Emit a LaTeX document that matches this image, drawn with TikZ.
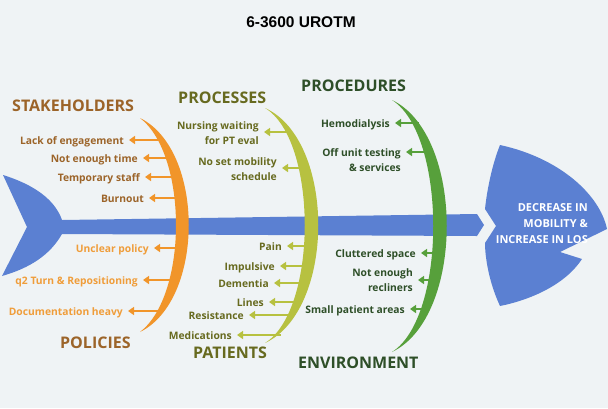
\documentclass[tikz,border=0pt]{standalone}
\usepackage{fontspec}
\setmainfont{Open Sans}
\newfontfamily\titlefont{Liberation Sans}
\usetikzlibrary{arrows.meta}
\definecolor{bgcol}{HTML}{EFF3F5}
\definecolor{fishblue}{HTML}{5B80D2}
\definecolor{orng}{HTML}{F1952A}
\definecolor{brwn}{HTML}{9C6429}
\definecolor{lorng}{HTML}{EF9D3A}
\definecolor{olive}{HTML}{B7C140}
\definecolor{dolive}{HTML}{676A1F}
\definecolor{grn}{HTML}{57A03B}
\definecolor{dgrn}{HTML}{2E4F28}
\tikzset{
  item/.style={anchor=base east, inner xsep=5pt, inner ysep=0pt, align=right,
    font=\fontsize{10.3}{15}\selectfont\bfseries},
  heading/.style={anchor=west, inner sep=0pt, font=\fontsize{16}{19}\selectfont\bfseries},
  arr/.style={line width=2.5pt, -{Triangle[length=6pt,width=8pt]}}
}
\begin{document}
\begin{tikzpicture}[x=1pt,y=-1pt]
    \fill[bgcol] (0,0) rectangle (608,408);
    \useasboundingbox (0,0) rectangle (608,408);
    \node (title) [font=\titlefont\fontsize{15.5}{18}\selectfont\bfseries] at (301,22) {6-3600 UROTM};
    % spine and tail
    \fill[fishblue] (3,175) .. controls (35,185) and (55,200) .. (62,220) -- (477,214) -- (484,225)
        -- (477,236) -- (62,234) .. controls (50,255) and (30,268) .. (2,276) -- (27,227) -- cycle;
    % head
    \fill[fishblue] (500,145) .. controls (560,158) and (600,195) .. (607,229) -- (560,252) -- (582,259)
        .. controls (565,285) and (530,300) .. (500,306) .. controls (488,280) and (485,255) .. (485,243)
        -- (496,226) -- (485,209) .. controls (487,190) and (492,165) .. (500,145) -- cycle;
    \node (effect) [anchor=east, align=right, text=white, inner sep=0pt,
        font=\fontsize{11}{16}\selectfont\bfseries] at (588,224) {DECREASE IN\\MOBILITY \&\\INCREASE IN LOS};
    % headings
    \node (stake) [heading, text=brwn] at (12,106) {STAKEHOLDERS};
    \node (pol) [heading, text=brwn] at (60,343) {POLICIES};
    \node (proc) [heading, text=dolive] at (178,98) {PROCESSES};
    \node (pat) [heading, text=dolive] at (193,353) {PATIENTS};
    \node (pcd) [heading, text=dgrn] at (301,86) {PROCEDURES};
    \node (env) [heading, text=dgrn] at (298,363) {ENVIRONMENT};
    % causes
    \foreach \n/\t/\x/\y/\a/\o in {s1/Lack of engagement/124/140/140/163, s2/Not enough time/138/158/158/172,
        s3/Temporary staff/140/177/177/178, s4/Burnout/144/198/198/181} {
    \node (\n) [item, text=brwn] at (\x+5,\y+4) {\t};
    \coordinate (\n o) at (\o,\a);
    \draw[arr, orng] (\n o) -- (\n o -| \n.east);
    }
    \foreach \n/\t/\x/\y/\a/\o in {p1/Unclear policy/149/248/248/181, p2/q2 Turn \& Repositioning/138/280/280/175,
        p3/Documentation heavy/123/311/311/161} {
    \node (\n) [item, text=lorng] at (\x+5,\y+4) {\t};
    \coordinate (\n o) at (\o,\a);
    \draw[arr, orng] (\n o) -- (\n o -| \n.east);
    }
    \foreach \n/\t/\x/\y/\a/\o in {r1/{Nursing waiting\\for PT eval}/259/140/132/291,
        r2/{No set mobility\\schedule}/277/176/168/304, a1/Pain/282/246/246/310, a2/Impulsive/275/266/266/308,
        a3/Dementia/269/283/283/304, a4/Lines/264/302/302/298, a5/Resistance/244/315/315/293,
        a6/Medications/232/335/335/281} {
    \node (\n) [item, text=dolive] at (\x+5,\y+4) {\t};
    \coordinate (\n o) at (\o,\a);
    \draw[arr, olive] (\n o) -- (\n o -| \n.east);
    }
    \foreach \n/\t/\x/\y/\a/\o in {c1/Hemodialysis/390/123/123/419, c2/{Off unit testing\\\& services}/401/167/152/430,
        e1/Cluttered space/416/253/253/438, e2/{Not enough\\recliners}/413/287/280/434,
        e3/Small patient areas/405/309/309/426} {
    \node (\n) [item, text=dgrn] at (\x+5,\y+4) {\t};
    \coordinate (\n o) at (\o,\a);
    \draw[arr, grn] (\n o) -- (\n o -| \n.east);
    }
    % bones
    \fill[orng] (140,118) .. controls (205,150) and (205,300) .. (140,332)
        .. controls (188,295) and (188,155) .. (140,118) -- cycle;
    \fill[olive] (265,108) .. controls (336,140) and (336,310) .. (265,343)
        .. controls (318,310) and (318,140) .. (265,108) -- cycle;
    \fill[grn] (392,100) .. controls (465,135) and (465,317) .. (392,352)
        .. controls (447,317) and (447,135) .. (392,100) -- cycle;
\end{tikzpicture}
\end{document}
